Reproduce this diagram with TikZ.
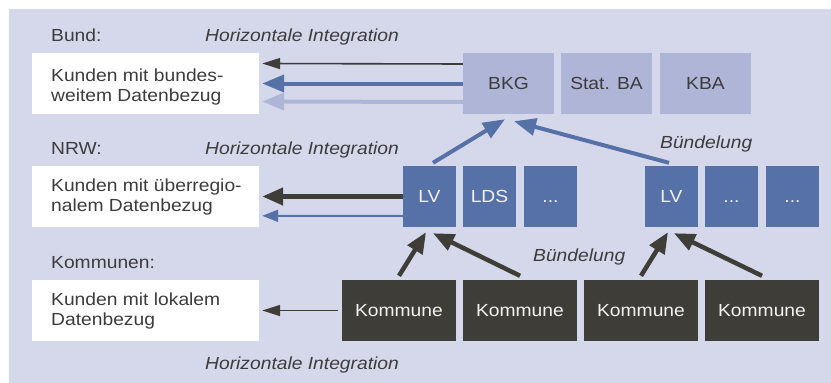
\documentclass[tikz,border=0pt]{standalone}
\usepackage{fontspec}
\setmainfont{Liberation Sans}[FakeStretch=1.1]
\usetikzlibrary{arrows.meta}

\definecolor{panel}{HTML}{D5D8EB}
\definecolor{paleblue}{HTML}{AFB5D7}
\definecolor{midblue}{HTML}{5670A8}
\definecolor{darkbox}{HTML}{3F3D38}
\definecolor{ink}{HTML}{3C3C3C}
\definecolor{boxtext}{HTML}{F2F2F2}

\tikzset{
  x=1pt, y=-1pt,
  every node/.style={font=\fontsize{17.5}{20}\selectfont, text=ink},
  whitebox/.style={fill=white, draw=none, minimum width=227pt, minimum height=61pt, inner sep=0pt},
  linetext/.style={anchor=base west, inner sep=0pt},
  unitbox/.style={draw=none, inner sep=0pt, text height=12.5pt, text depth=0pt},
  bundbox/.style={unitbox, fill=paleblue, minimum width=91pt, minimum height=61pt},
  landbox/.style={unitbox, fill=midblue, text=boxtext, minimum width=53pt, minimum height=61pt},
  kommbox/.style={unitbox, fill=darkbox, text=boxtext, minimum width=114pt, minimum height=61pt},
  thinblack/.style={draw=darkbox, line width=1.6pt, -{Triangle[length=18pt, width=11pt]}},
  thickblack/.style={draw=darkbox, line width=4.5pt, -{Triangle[length=21pt, width=17pt]}},
  thickblue/.style={draw=midblue, line width=4pt, -{Triangle[length=22pt, width=17pt]}},
  thinblue/.style={draw=midblue, line width=2pt, -{Triangle[length=16pt, width=12pt]}},
  paleline/.style={draw=paleblue, line width=4pt, -{Triangle[length=22pt, width=17pt]}},
}

\begin{document}
\begin{tikzpicture}
\useasboundingbox (0,0) rectangle (831,383);
\fill[panel] (9,9) rectangle (831,383);

% level captions
\node[linetext] (lblbund) at (51,41) {Bund:};
\node[linetext] (lblnrw) at (51,154.5) {NRW:};
\node[linetext] (lblkomm) at (51,268.3) {Kommunen:};
\node[linetext] (hibund) at (205,41) {\itshape Horizontale Integration};
\node[linetext] (hinrw) at (205,154.5) {\itshape Horizontale Integration};
\node[linetext] (hikomm) at (205,369) {\itshape Horizontale Integration};
\node[linetext] (bdtop) at (660,148) {\itshape Bündelung};
\node[linetext] (bdlow) at (533,261) {\itshape Bündelung};

% customer boxes
\node[whitebox] (kbund) at (145.5,83) {};
\node[whitebox] (knrw) at (145.5,196.3) {};
\node[whitebox] (kkomm) at (145.5,310.4) {};
\node[linetext] (tbund) at (51,81.7) {\parbox[t]{200pt}{Kunden mit bundes-\\weitem Datenbezug}};
\node[linetext] (tnrw) at (51,191.7) {\parbox[t]{200pt}{Kunden mit überregio-\\nalem Datenbezug}};
\node[linetext] (tkomm) at (51,305) {\parbox[t]{200pt}{Kunden mit lokalem\\Datenbezug}};

% federal agencies
\node[bundbox] (bkg) at (508.5,83.5) {BKG};
\node[bundbox] (stba) at (606.5,83.5) {Stat. BA};
\node[bundbox] (kba) at (705.5,83.5) {KBA};

% state level
\node[landbox] (lva) at (429.5,196.5) {LV};
\node[landbox] (lds) at (489.5,196.5) {LDS};
\node[landbox] (dotsa) at (550.5,196.5) {...};
\node[landbox] (lvb) at (671.5,196.5) {LV};
\node[landbox] (dotsb) at (731.5,196.5) {...};
\node[landbox] (dotsc) at (792.5,196.5) {...};

% municipalities
\node[kommbox] (ka) at (399,310.5) {Kommune};
\node[kommbox] (kb) at (520,310.5) {Kommune};
\node[kommbox] (kc) at (641,310.5) {Kommune};
\node[kommbox] (kd) at (762,310.5) {Kommune};

% horizontal integration: delivery to customers
\draw[thinblack] ([yshift=19.5pt]bkg.west) -- ([yshift=19.5pt, xshift=3pt]kbund.east);
\draw[thickblue] (bkg.west) -- ([xshift=3pt]kbund.east |- bkg.west);
\draw[paleline] ([yshift=-18.5pt]bkg.west) -- ([yshift=-18.5pt, xshift=3pt]kbund.east);

\draw[thickblack] (lva.west) -- ([xshift=3pt]knrw.east |- lva.west);
\draw[thinblue] ([yshift=-19.5pt]lva.west) -- ([yshift=-19.5pt, xshift=3pt]knrw.east);

\draw[thinblack] ([xshift=-4pt]ka.west) -- ([xshift=3pt]kkomm.east |- ka.west);

% bundling towards the upper level
\draw[thickblue] ([xshift=3.5pt, yshift=3pt]lva.north) -- ([xshift=-3.5pt, yshift=-5pt]bkg.south);
\draw[thickblue] ([xshift=-2.5pt, yshift=3pt]lvb.north) -- ([xshift=5.5pt, yshift=-7pt]bkg.south);

\draw[thickblack] ([yshift=4pt]ka.north) -- ([xshift=-3.5pt, yshift=-5pt]lva.south);
\draw[thickblack] ([yshift=4pt]kb.north) -- ([xshift=3.5pt, yshift=-6pt]lva.south);
\draw[thickblack] ([yshift=4pt]kc.north) -- ([xshift=-3.5pt, yshift=-5pt]lvb.south);
\draw[thickblack] ([yshift=4pt]kd.north) -- ([xshift=2.5pt, yshift=-6pt]lvb.south);
\end{tikzpicture}
\end{document}
